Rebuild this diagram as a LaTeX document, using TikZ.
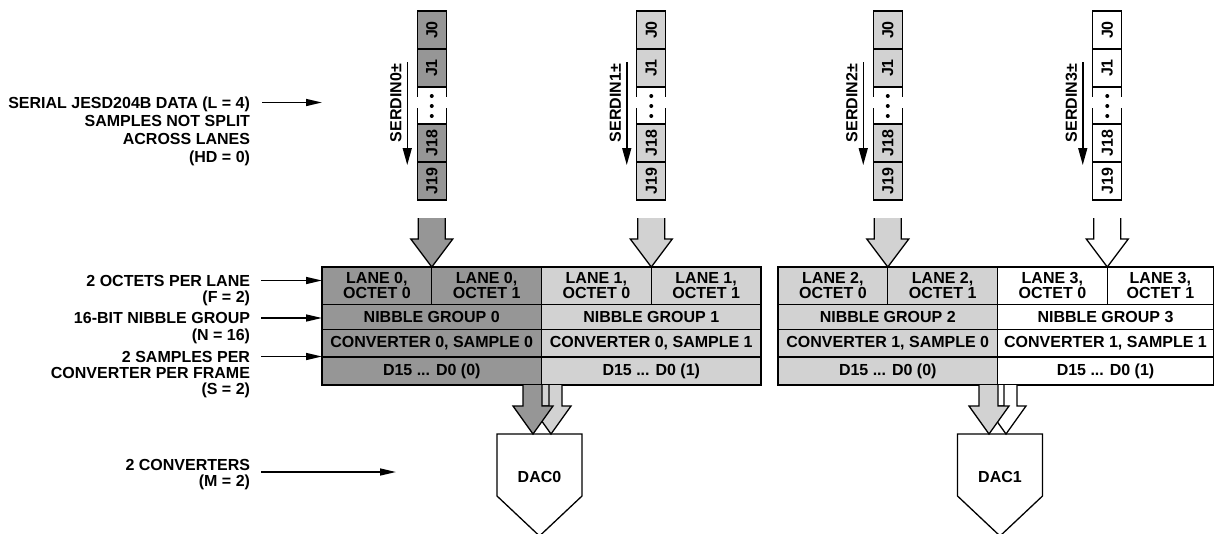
\documentclass[tikz,border=0pt]{standalone}
\usepackage{fontspec}
\setmainfont{Liberation Sans}
\usepackage{graphicx}
\usepackage{tikz}
\usetikzlibrary{arrows.meta,positioning}
\definecolor{LaneDark}{HTML}{969696}
\definecolor{LaneLight}{HTML}{D2D2D2}

\begin{document}
\begin{tikzpicture}[
    x=1pt, y=-1pt,
    font=\bfseries\fontsize{16}{15}\selectfont,
    cell/.style={draw, line width=1.3pt, inner sep=0pt, outer sep=0pt, anchor=north west, align=center},
    jcell/.style={draw, line width=1.3pt, inner sep=0pt, outer sep=0pt, anchor=north, minimum width=29, minimum height=38},
    lbl/.style={inner sep=0pt, outer sep=0pt, anchor=east, text height=11.5pt, text depth=0pt},
    fat/.style={line width=1.3pt, line join=miter},
    lab/.style={-{Triangle[length=16pt,width=7pt]}, line width=1.5pt},
    serarrow/.style={-{Triangle[length=17pt,width=9pt]}, line width=1.5pt}
  ]
  \useasboundingbox (0,0) rectangle (1214,533);

  % frame table
  \foreach \i/\x/\w/\col/\cv/\smp in {0/322/219.5/LaneDark/0/0, 1/541.5/219.5/LaneLight/0/1, 2/778/219.5/LaneLight/1/0, 3/997.5/216/white/1/1}{
    \node[cell, fill=\col, minimum width=109.75, minimum height=37.5] (oa\i) at (\x,267) {LANE \i,\\OCTET 0};
    \node[cell, fill=\col, minimum width=\w-109.75, minimum height=37.5] (ob\i) at (\x+109.75,267) {LANE \i,\\OCTET 1};
    \node[cell, fill=\col, minimum width=\w, minimum height=25] (nib\i) at (\x,304.5) {NIBBLE GROUP \i};
    \node[cell, fill=\col, minimum width=\w, minimum height=27.5] (conv\i) at (\x,329.5) {CONVERTER \cv, SAMPLE \smp};
    \node[cell, fill=\col, minimum width=\w, minimum height=28] (dat\i) at (\x,357) {D15 ... D0 (\smp)};
  }

  % serial lanes
  \foreach \i/\col in {0/LaneDark, 1/LaneLight, 2/LaneLight, 3/white}{
    \node[jcell, fill=\col] (j0-\i) at (oa\i.north east |- 0,11) {\rotatebox{90}{J0}};
    \node[jcell, fill=\col] (j1-\i) at (oa\i.north east |- 0,49) {\rotatebox{90}{J1}};
    \node[jcell, fill=\col] (j18-\i) at (oa\i.north east |- 0,124) {\rotatebox{90}{J18}};
    \node[jcell, fill=\col] (j19-\i) at (oa\i.north east |- 0,162) {\rotatebox{90}{J19}};
    \draw[line width=1.3pt] (j1-\i.south west) -- ++(0,10) (j1-\i.south east) -- ++(0,10);
    \draw[line width=1.3pt] (j18-\i.north west) -- ++(0,-16) (j18-\i.north east) -- ++(0,-16);
    \foreach \d in {9,19,29} \fill (j1-\i.south) ++(0,\d) circle (2);
    \draw[serarrow] ([xshift=-10pt,yshift=-13pt]j1-\i.north west) -- ([xshift=-10pt,yshift=-3pt]j19-\i.north west);
    \node[rotate=90, inner sep=0pt] (sd\i) at ([xshift=-21.5pt,yshift=-54pt]j1-\i.north west) {SERDIN\i±};
    \draw[fat, fill=\col] (j19-\i.south) ++(-13.5,18) -- ++(0,21) -- ++(-7.5,0) -- (oa\i.north east) -- ++(21,-28) -- ++(-7.5,0) -- ++(0,-21);
  }

  % converters
  \node[inner sep=0pt, outer sep=0pt, minimum width=85, minimum height=86] (dac0) at (539.5,477) {DAC0};
  \node[inner sep=0pt, outer sep=0pt, minimum width=85, minimum height=86] (dac1) at (1000,477) {DAC1};

  \foreach \dac/\off/\col in {dac0/11.5/LaneLight, dac1/6/white}{
    \fill[\col] ([xshift=\off pt]\dac.north) +(-9,-49) rectangle +(-2,-28);
    \draw[fat, fill=\col] ([xshift=\off pt]\dac.north) +(-2,-49) -- +(-2,-28) -- +(-20,-28) -- +(0,0) -- +(20,-28) -- +(11,-28) -- +(11,-49);
  }
  \foreach \dac/\off/\col in {dac0/-6.5/LaneDark, dac1/-11/LaneLight}{
    \draw[fat, fill=\col] ([xshift=\off pt]\dac.north) +(-10,-49) -- +(-10,-28) -- +(-20,-28) -- +(0,0) -- +(20,-28) -- +(9,-28) -- +(9,-49);
  }
  \foreach \dac in {dac0,dac1}
    \draw[line width=1.3pt, line join=miter] (\dac.north west) -- ++(0,62) -- ++(42.5,40) -- ++(42.5,-40) -- (\dac.north east) -- cycle;

  % side notes
  \node[lbl] (lblser) at (250,102.5) {SERIAL JESD204B DATA (L = 4)};
  \node[lbl] (lblsera) at (250,120.5) {SAMPLES NOT SPLIT};
  \node[lbl] (lblserb) at (250,138.5) {ACROSS LANES};
  \node[lbl] (lblserc) at (250,156.5) {(HD = 0)};
  \node[lbl] (lbloct) at (250,280.5) {2 OCTETS PER LANE};
  \node[lbl] (lbloctb) at (250,296.5) {(F = 2)};
  \node[lbl] (lblnib) at (250,318) {16-BIT NIBBLE GROUP};
  \node[lbl] (lblnibb) at (250,335) {(N = 16)};
  \node[lbl] (lblsmp) at (250,356.5) {2 SAMPLES PER};
  \node[lbl] (lblsmpb) at (250,372.5) {CONVERTER PER FRAME};
  \node[lbl] (lblsmpc) at (250,389) {(S = 2)};
  \node[lbl] (lblcnv) at (250,465) {2 CONVERTERS};
  \node[lbl] (lblcnvb) at (250,481) {(M = 2)};

  \coordinate (serend) at (322,102.5);
  \coordinate (cnvend) at (396,472);
  \draw[lab] (lblser.east) ++(12,0) -- (serend);
  \draw[lab] (lbloct.east) ++(11,0) -- (lbloct.east -| oa0.west);
  \draw[lab] (lblnib.east) ++(11,0) -- (lblnib.east -| nib0.west);
  \draw[lab] (lblsmp.east) ++(11,0) -- (lblsmp.east -| conv0.west);
  \draw[lab] (lblcnv.east |- cnvend) ++(11,0) -- (cnvend);
\end{tikzpicture}
\end{document}
